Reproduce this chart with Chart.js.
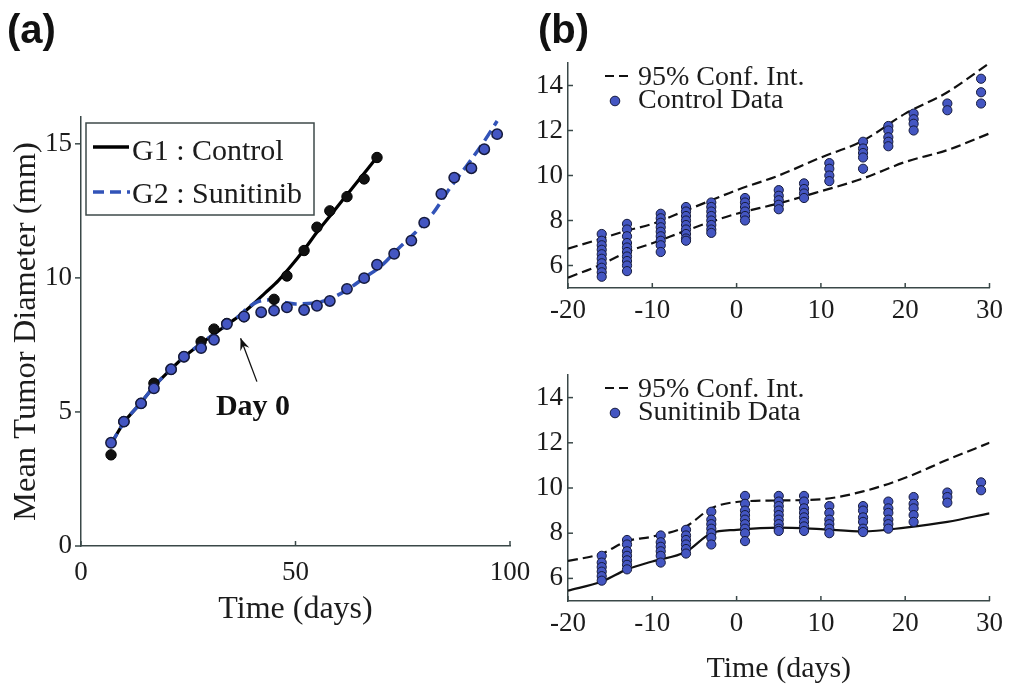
<!DOCTYPE html>
<html>
<head>
<meta charset="utf-8">
<script src="https://cdn.jsdelivr.net/npm/chart.js@4.4.1/dist/chart.umd.min.js"></script>
<style>
html,body{margin:0;padding:0;background:#fff;}
#wrap{position:relative;width:1010px;height:690px;overflow:hidden;background:#fff;}
canvas{position:absolute;left:0;top:0;}
.lbl{position:absolute;font-family:'Liberation Sans',Arial,sans-serif;font-weight:bold;font-size:40px;line-height:1;color:#111;}
</style>
</head>
<body>
<div id="wrap">
<canvas id="cA" width="1010" height="690"></canvas>
<canvas id="cB1" width="1010" height="690"></canvas>
<canvas id="cB2" width="1010" height="690"></canvas>
<div class="lbl" style="left:7px;top:9px">(a)</div>
<div class="lbl" style="left:538px;top:9px">(b)</div>
</div>
<script>
// ---------- Panel (a) data ----------
const xTicksA = [0, 50, 100];
const yTicksA = [0, 5, 10, 15];
const ctrlFitX = [7, 10, 14, 17, 21, 24, 28, 31, 34, 37, 40, 43, 46, 49, 52, 55, 58, 61, 64, 67, 69];
const ctrlFitY = [3.8, 4.6, 5.35, 5.95, 6.6, 7.05, 7.55, 7.9, 8.25, 8.6, 9.0, 9.45, 9.9, 10.45, 11.05, 11.7, 12.3, 12.9, 13.5, 14.1, 14.5];
const suniFitX = [7, 10, 14, 17, 21, 24, 28, 31, 34, 37, 39, 41, 44, 47, 50, 54, 58, 62, 66, 70, 74, 78, 82, 86, 90, 94, 97];
const suniFitY = [3.8, 4.6, 5.35, 5.95, 6.6, 7.05, 7.55, 7.9, 8.25, 8.6, 8.9, 9.1, 9.18, 9.1, 9.03, 9.05, 9.22, 9.55, 10.0, 10.45, 11.1, 11.7, 12.4, 13.35, 14.2, 15.1, 15.85];
const ctrlDays = [7, 10, 14, 17, 21, 24, 28, 31, 34, 38, 45, 48, 52, 55, 58, 62, 66, 69];
const ctrlVals = [3.4, 4.64, 5.32, 6.07, 6.59, 7.06, 7.62, 8.09, 8.3, 8.55, 9.2, 10.07, 11.02, 11.89, 12.5, 13.03, 13.69, 14.49];
const suniDays = [7, 10, 14, 17, 21, 24, 28, 31, 34, 38, 42, 45, 48, 52, 55, 58, 62, 66, 69, 73, 77, 80, 84, 87, 91, 94, 97];
const suniVals = [3.85, 4.64, 5.32, 5.88, 6.59, 7.06, 7.38, 7.69, 8.28, 8.56, 8.72, 8.78, 8.9, 8.8, 8.96, 9.14, 9.59, 9.99, 10.49, 10.9, 11.39, 12.06, 13.13, 13.74, 14.09, 14.8, 15.36];
const legendLabelsA = ['G1 : Control', 'G2 : Sunitinib'];
const dayLabel = 'Day 0';
const dayArrowTail = [41.0, 6.13];
const dayArrowTip = [37.2, 7.75];
const dayLabelAt = [40.1, 4.89];

// ---------- Panel (b) data ----------
const xTicksB = [-20, -10, 0, 10, 20, 30];
const yTicksB = [6, 8, 10, 12, 14];
const daysB = [-16, -13, -9, -6, -3, 1, 5, 8, 11, 15, 18, 21, 25, 29];
const ctrlValsB = [
  [7.4, 7.1, 6.9, 6.7, 6.5, 6.3, 6.1, 5.9, 5.7, 5.5],
  [7.85, 7.6, 7.3, 7.0, 6.8, 6.6, 6.4, 6.2, 6.0, 5.75],
  [8.3, 8.1, 7.9, 7.7, 7.5, 7.3, 7.1, 6.9, 6.6],
  [8.6, 8.4, 8.2, 8.0, 7.8, 7.6, 7.4, 7.2, 7.1],
  [8.8, 8.6, 8.4, 8.2, 8.0, 7.8, 7.6, 7.45],
  [9.0, 8.8, 8.6, 8.4, 8.2, 8.0],
  [9.35, 9.1, 8.9, 8.7, 8.5],
  [9.65, 9.4, 9.2, 9.0],
  [10.55, 10.3, 10.0, 9.75],
  [11.5, 11.2, 11.0, 10.8, 10.3],
  [12.2, 12.0, 11.7, 11.5, 11.3],
  [12.75, 12.5, 12.3, 12.0],
  [13.2, 12.9],
  [14.3, 13.7, 13.2]
];
const suniValsB = [
  [7.0, 6.7, 6.5, 6.3, 6.1, 5.9],
  [7.7, 7.5, 7.2, 7.0, 6.8, 6.6, 6.4],
  [7.9, 7.6, 7.4, 7.2, 7.0, 6.7],
  [8.15, 7.9, 7.7, 7.5, 7.3, 7.1],
  [8.95, 8.6, 8.4, 8.2, 8.0, 7.8, 7.5],
  [9.65, 9.3, 9.0, 8.8, 8.6, 8.4, 8.2, 8.0, 7.65],
  [9.65, 9.4, 9.2, 9.0, 8.8, 8.6, 8.4, 8.2, 8.1],
  [9.65, 9.4, 9.1, 8.9, 8.7, 8.5, 8.3, 8.1],
  [9.2, 8.9, 8.6, 8.4, 8.2, 8.0],
  [9.2, 9.0, 8.7, 8.5, 8.2, 8.05],
  [9.4, 9.1, 8.9, 8.6, 8.4, 8.2],
  [9.6, 9.3, 9.1, 8.8, 8.5],
  [9.8, 9.6, 9.35],
  [10.25, 9.9]
];
const ciX = [-20, -16, -13, -10, -6, -3, 0, 5, 10, 15, 20, 25, 30];
const ctrlUpY = [6.75, 7.2, 7.55, 7.85, 8.45, 8.9, 9.35, 10.0, 10.8, 11.55, 12.75, 13.7, 15.0];
const ctrlLoY = [5.46, 6.05, 6.6, 6.99, 7.55, 7.95, 8.3, 8.76, 9.3, 9.87, 10.6, 11.13, 11.87];
const suniUpY = [6.77, 7.1, 7.65, 7.85, 8.3, 9.1, 9.38, 9.45, 9.5, 9.85, 10.45, 11.25, 12.0];
const suniLoY = [5.46, 5.86, 6.4, 6.75, 7.18, 8.0, 8.15, 8.25, 8.18, 8.08, 8.25, 8.5, 8.88];
const legendLabelsB1 = ['95% Conf. Int.', 'Control Data'];
const legendLabelsB2 = ['95% Conf. Int.', 'Sunitinib Data'];

// ---------- helpers ----------
const SERIF = "'Liberation Serif','Times New Roman',serif";
const AXIS = '#3a4848';
const TXT = '#1c1c1c';
const BLUE_FILL = '#4456c2';
const BLUE_EDGE = '#151a3c';
const BLUE_LINE = '#3253b8';
const pts = (xs, ys) => xs.map((x, i) => ({x: x, y: ys[i]}));
const cluster = (days, vals) => days.flatMap((d, i) => vals[i].map(v => ({x: d, y: v})));
const setTicks = arr => s => { s.ticks = arr.map(v => ({value: v})); };

const tickMarks = {
  id: 'tickMarks',
  afterDraw(chart, args, opts) {
    const ctx = chart.ctx, ca = chart.chartArea;
    const xs = chart.scales.x, ys = chart.scales.y;
    ctx.save();
    ctx.strokeStyle = AXIS; ctx.lineWidth = 1.5;
    xs.ticks.forEach(t => {
      const p = xs.getPixelForValue(t.value);
      ctx.beginPath(); ctx.moveTo(p, ca.bottom); ctx.lineTo(p, ca.bottom + opts.xLen); ctx.stroke();
    });
    ys.ticks.forEach(t => {
      const p = ys.getPixelForValue(t.value);
      ctx.beginPath(); ctx.moveTo(ca.left, p); ctx.lineTo(ca.left + opts.yLen, p); ctx.stroke();
    });
    ctx.restore();
  }
};

function axisCommon(min, max, ticksArr, fontSize, pad) {
  return {
    type: 'linear', min: min, max: max,
    afterBuildTicks: setTicks(ticksArr),
    grid: {display: false, drawTicks: false},
    border: {display: true, color: AXIS, width: 1.5},
    ticks: {font: {family: SERIF, size: fontSize}, color: TXT, padding: pad, maxRotation: 0, autoSkip: false}
  };
}

// ---------- Panel (a) ----------
const legendA = {
  id: 'legendA',
  afterDraw(chart) {
    const ctx = chart.ctx;
    ctx.save();
    ctx.fillStyle = '#fff';
    ctx.fillRect(86, 123, 228, 92);
    ctx.strokeStyle = '#3e4a4a'; ctx.lineWidth = 1.5;
    ctx.strokeRect(86, 123, 228, 92);
    ctx.lineWidth = 3.5; ctx.strokeStyle = '#000';
    ctx.beginPath(); ctx.moveTo(93, 147); ctx.lineTo(129, 147); ctx.stroke();
    ctx.strokeStyle = BLUE_LINE; ctx.setLineDash([11, 6]);
    ctx.beginPath(); ctx.moveTo(93, 192); ctx.lineTo(130, 192); ctx.stroke();
    ctx.setLineDash([]);
    ctx.fillStyle = TXT; ctx.font = '30px ' + SERIF; ctx.textBaseline = 'alphabetic'; ctx.textAlign = 'left';
    ctx.fillText(legendLabelsA[0], 132, 160);
    ctx.fillText(legendLabelsA[1], 132, 203);
    // Day 0 annotation
    const xs = chart.scales.x, ys = chart.scales.y;
    const tx = xs.getPixelForValue(dayArrowTail[0]), ty = ys.getPixelForValue(dayArrowTail[1]);
    const hx = xs.getPixelForValue(dayArrowTip[0]), hy = ys.getPixelForValue(dayArrowTip[1]);
    ctx.strokeStyle = '#111'; ctx.lineWidth = 1.3;
    ctx.beginPath(); ctx.moveTo(tx, ty); ctx.lineTo(hx, hy); ctx.stroke();
    const ang = Math.atan2(hy - ty, hx - tx);
    const L = 13, W = 0.38;
    ctx.fillStyle = '#111';
    ctx.beginPath();
    ctx.moveTo(hx, hy);
    ctx.lineTo(hx - L * Math.cos(ang - W), hy - L * Math.sin(ang - W));
    ctx.lineTo(hx - 0.6 * L * Math.cos(ang), hy - 0.6 * L * Math.sin(ang));
    ctx.lineTo(hx - L * Math.cos(ang + W), hy - L * Math.sin(ang + W));
    ctx.closePath(); ctx.fill();
    ctx.font = 'bold 30px ' + SERIF; ctx.textAlign = 'center'; ctx.fillStyle = '#111';
    ctx.fillText(dayLabel, xs.getPixelForValue(dayLabelAt[0]), ys.getPixelForValue(dayLabelAt[1]));
    ctx.restore();
  }
};

const xA = axisCommon(0, 100, xTicksA, 27, 11);
xA.afterFit = s => { s.height = 144; };
xA.title = {display: true, text: 'Time (days)', font: {family: SERIF, size: 32}, color: TXT, padding: {top: 0, bottom: 61}};
const yA = axisCommon(0, 16, yTicksA, 27, 9);
yA.afterFit = s => { s.width = 81; };
yA.title = {display: true, text: 'Mean Tumor Diameter (mm)', font: {family: SERIF, size: 32.5}, color: TXT, padding: {top: 6.5, bottom: 0}};

new Chart(document.getElementById('cA'), {
  type: 'scatter',
  data: {
    datasets: [
      {label: 'G2 data', data: pts(suniDays, suniVals), backgroundColor: BLUE_FILL, borderColor: BLUE_EDGE, borderWidth: 1.5, pointRadius: 5.2, order: 0},
      {label: 'G1 data', data: pts(ctrlDays, ctrlVals), backgroundColor: '#111', borderColor: '#000', borderWidth: 1, pointRadius: 5.2, order: 1},
      {label: 'G2 : Sunitinib', data: pts(suniFitX, suniFitY), showLine: true, borderColor: BLUE_LINE, borderWidth: 3.5, borderDash: [12, 6], pointRadius: 0, cubicInterpolationMode: 'monotone', order: 2},
      {label: 'G1 : Control', data: pts(ctrlFitX, ctrlFitY), showLine: true, borderColor: '#000', borderWidth: 3.2, pointRadius: 0, cubicInterpolationMode: 'monotone', order: 3}
    ]
  },
  options: {
    responsive: false, animation: false, devicePixelRatio: 1,
    layout: {padding: {left: 0, right: 500, top: 117, bottom: 0}},
    scales: {x: xA, y: yA},
    plugins: {legend: {display: false}, tooltip: {enabled: false}, tickMarks: {xLen: -5, yLen: -6}}
  },
  plugins: [tickMarks, legendA]
});

// ---------- Panel (b) ----------
function makeB(id, padTop, padBottom, xHeight, vals, upY, loY, loDash, labels, legendBase, showTitle) {
  const legendB = {
    id: 'legendB' + id,
    afterDraw(chart) {
      const ctx = chart.ctx;
      ctx.save();
      ctx.strokeStyle = '#111'; ctx.lineWidth = 2; ctx.setLineDash([9, 5]);
      ctx.beginPath(); ctx.moveTo(605, legendBase - 9); ctx.lineTo(628, legendBase - 9); ctx.stroke();
      ctx.setLineDash([]);
      ctx.fillStyle = BLUE_FILL; ctx.strokeStyle = BLUE_EDGE; ctx.lineWidth = 1;
      ctx.beginPath(); ctx.arc(615, legendBase + 16, 4.8, 0, Math.PI * 2); ctx.fill(); ctx.stroke();
      ctx.fillStyle = TXT; ctx.font = '28px ' + SERIF; ctx.textAlign = 'left'; ctx.textBaseline = 'alphabetic';
      ctx.fillText(labels[0], 638, legendBase);
      ctx.fillText(labels[1], 638, legendBase + 23);
      ctx.restore();
    }
  };
  const xB = axisCommon(-20, 30, xTicksB, 27, 7);
  xB.afterFit = s => { s.height = xHeight; };
  xB.title = {display: showTitle, text: 'Time (days)', font: {family: SERIF, size: 30}, color: TXT, padding: {top: 0, bottom: 3}};
  const yB = axisCommon(5, 15, yTicksB, 27, 5);
  yB.afterFit = s => { s.width = 60; };
  new Chart(document.getElementById(id), {
    type: 'scatter',
    data: {
      datasets: [
        {label: labels[1], data: cluster(daysB, vals), backgroundColor: BLUE_FILL, borderColor: BLUE_EDGE, borderWidth: 1, pointRadius: 4.6, order: 0},
        {label: labels[0] + ' upper', data: pts(ciX, upY), showLine: true, borderColor: '#111', borderWidth: 2.2, borderDash: [10, 5], pointRadius: 0, cubicInterpolationMode: 'monotone', order: 1},
        {label: labels[0] + ' lower', data: pts(ciX, loY), showLine: true, borderColor: '#111', borderWidth: 2.2, borderDash: loDash, pointRadius: 0, cubicInterpolationMode: 'monotone', order: 2}
      ]
    },
    options: {
      responsive: false, animation: false, devicePixelRatio: 1,
      layout: {padding: {left: 508, right: 15, top: padTop, bottom: padBottom}},
      scales: {x: xB, y: yB},
      plugins: {legend: {display: false}, tooltip: {enabled: false}, tickMarks: {xLen: -5, yLen: 5}}
    },
    plugins: [tickMarks, legendB]
  });
}
makeB('cB1', 63, 342, 60, ctrlValsB, ctrlUpY, ctrlLoY, [10, 5], legendLabelsB1, 85, false);
makeB('cB2', 375, 0, 89, suniValsB, suniUpY, suniLoY, [], legendLabelsB2, 397, true);
</script>
</body>
</html>
